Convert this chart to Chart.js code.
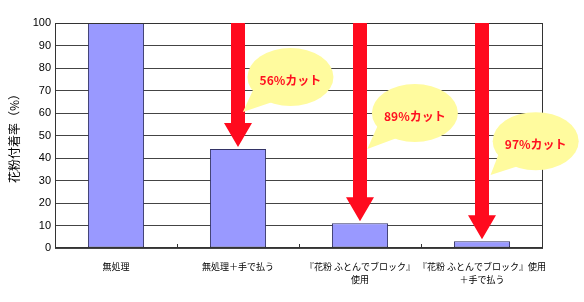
<!DOCTYPE html>
<html>
<head>
<meta charset="utf-8">
<script src="https://cdn.jsdelivr.net/npm/chart.js@4.4.1/dist/chart.umd.min.js"></script>
<style>
  html, body { margin: 0; padding: 0; background: #fff; }
  #wrap { width: 584px; height: 302px; }
</style>
</head>
<body>
<div id="wrap"><canvas id="chartMain"></canvas></div>
<script>
// data
var categories = [
  '無処理',
  '無処理＋手で払う',
  ['『花粉 ふとんでブロック』', '使用'],
  ['『花粉 ふとんでブロック』使用', '＋手で払う']
];
var rates = [100, 44, 11, 3];
var yTicks = [0, 10, 20, 30, 40, 50, 60, 70, 80, 90, 100];

// callouts: which bar, label, bubble centre and tail tip (category index, value)
var cutBars = [1, 2, 3];
var cutLabels = ['56%カット', '89%カット', '97%カット'];
var bubbleX = [1.43, 2.45, 3.44];
var bubbleY = [76, 60, 47.5];
var tailX = [1.04, 2.06, 3.07];
var tailY = [60.5, 44, 32.5];

var jpFont = '"Noto Sans CJK JP", "Noto Sans", sans-serif';

// arrows, bubbles, frame
var overlay = {
  id: 'overlay',
  afterDatasetsDraw: function(chart) {
    var c = chart.ctx;
    var xs = chart.scales.x, ys = chart.scales.y;
    var area = chart.chartArea;

    // frame + small ticks at category boundaries
    c.save();
    c.strokeStyle = '#333';
    c.lineWidth = 1;
    c.strokeRect(Math.round(area.left) + 0.5, Math.round(area.top) + 0.5,
      Math.round(area.right - area.left) - 1, Math.round(area.bottom - area.top) - 1);
    var step = (area.right - area.left) / categories.length;
    for (var k = 1; k < categories.length; k++) {
      var bx = Math.round(area.left + step * k) + 0.5;
      c.beginPath();
      c.moveTo(bx, area.bottom);
      c.lineTo(bx, area.bottom - 4);
      c.stroke();
    }
    c.restore();

    // red arrows
    c.save();
    c.fillStyle = '#FF0A1E';
    cutBars.forEach(function(i) {
      var cx = xs.getPixelForValue(i);
      var tip = ys.getPixelForValue(rates[i]) - 2;
      var top = area.top;
      var shaft = 7, head = 14, headH = 24;
      c.beginPath();
      c.moveTo(cx - shaft, top);
      c.lineTo(cx + shaft, top);
      c.lineTo(cx + shaft, tip - headH);
      c.lineTo(cx + head, tip - headH);
      c.lineTo(cx, tip);
      c.lineTo(cx - head, tip - headH);
      c.lineTo(cx - shaft, tip - headH);
      c.closePath();
      c.fill();
    });
    c.restore();

    // speech bubbles
    c.save();
    cutLabels.forEach(function(txt, j) {
      var ex = xs.getPixelForValue(bubbleX[j]);
      var ey = ys.getPixelForValue(bubbleY[j]);
      var tx = xs.getPixelForValue(tailX[j]);
      var ty = ys.getPixelForValue(tailY[j]);
      c.fillStyle = '#FFFB9E';
      c.beginPath();
      c.ellipse(ex, ey, 43, 29, 0, 0, Math.PI * 2);
      c.fill();
      c.beginPath();
      c.moveTo(ex - 36, ey + 10);
      c.lineTo(tx, ty);
      c.lineTo(ex - 18, ey + 25);
      c.closePath();
      c.fill();
      c.fillStyle = '#FF1020';
      c.font = 'bold 12px ' + jpFont;
      c.textAlign = 'center';
      c.textBaseline = 'middle';
      c.fillText(txt, ex, ey + 3);
    });
    c.restore();
  }
};

var ctx = document.getElementById('chartMain');
var chartMain = new Chart(ctx, {
  type: 'bar',
  data: {
    labels: categories,
    datasets: [{
      data: rates,
      backgroundColor: '#9999FF',
      borderColor: '#333366',
      borderWidth: 1,
      borderSkipped: false,
      categoryPercentage: 1,
      barPercentage: 0.46
    }]
  },
  options: {
    responsive: true,
    maintainAspectRatio: false,
    animation: false,
    layout: { padding: { left: 0, right: 41, top: 23, bottom: 0 } },
    plugins: {
      legend: { display: false },
      tooltip: { enabled: false }
    },
    scales: {
      x: {
        grid: { display: false },
        border: { display: false },
        ticks: {
          color: '#000',
          font: { family: jpFont, size: 9, lineHeight: 1.35 },
          padding: 5,
          maxRotation: 0,
          autoSkip: false
        },
        afterFit: function(s) { s.height = 54; }
      },
      y: {
        min: 0,
        max: 100,
        afterBuildTicks: function(s) {
          s.ticks = yTicks.map(function(v) { return { value: v }; });
        },
        grid: { color: '#444', lineWidth: 1, drawTicks: false },
        border: { display: false },
        ticks: {
          color: '#000',
          padding: 4,
          font: { family: '"Liberation Sans", Arial, sans-serif', size: 11 }
        },
        title: {
          display: true,
          text: '花粉付着率（%）',
          color: '#000',
          font: { family: jpFont, size: 12 },
          padding: { top: 7, bottom: 0 }
        },
        afterFit: function(s) { s.width = 55; }
      }
    }
  },
  plugins: [overlay]
});
</script>
</body>
</html>
